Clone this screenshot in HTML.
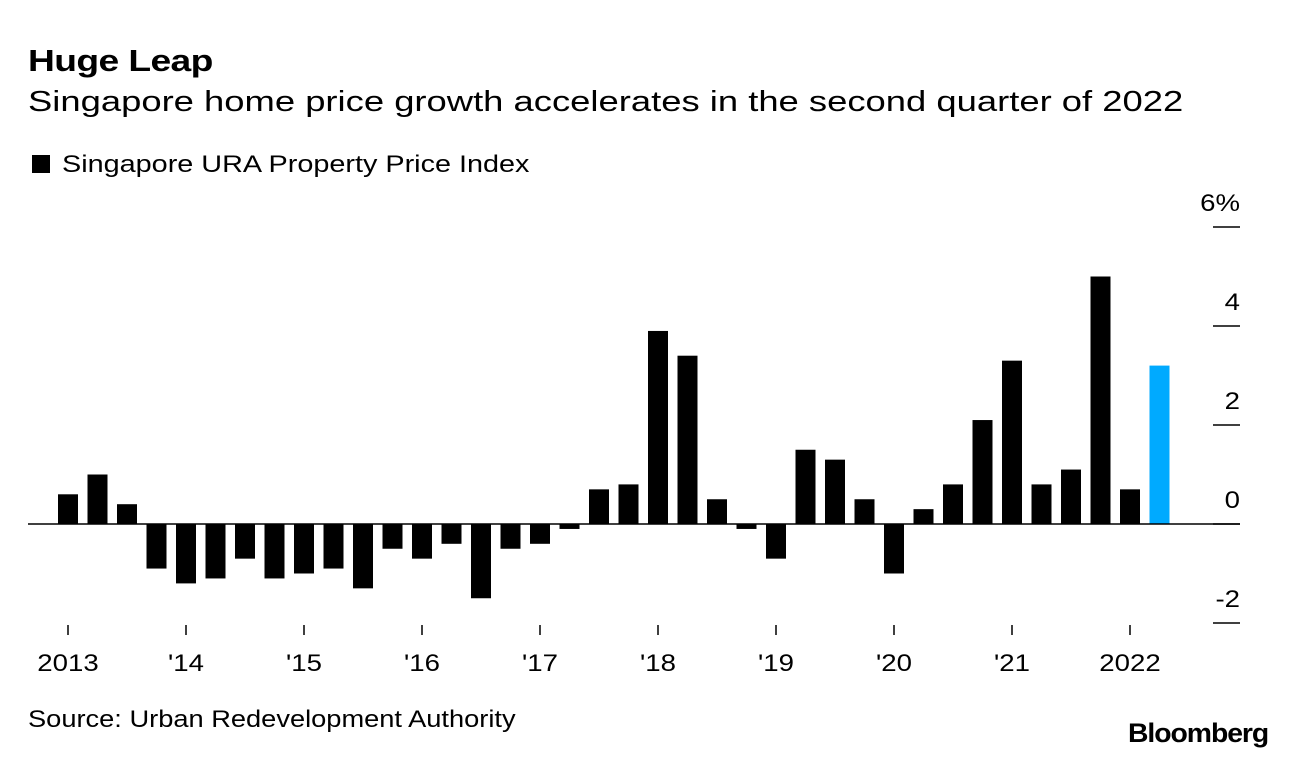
<!DOCTYPE html>
<html><head><meta charset="utf-8"><style>
body{margin:0;background:#fff;font-family:"Liberation Sans",sans-serif;}
#wrap{position:relative;width:1296px;height:760px;overflow:hidden;}
.t{position:absolute;white-space:nowrap;color:#000;transform-origin:0 50%;}
svg text{transform-box:fill-box;}
</style></head><body>
<div id="wrap">
<div class="t" style="left:28px;top:43px;font-size:31px;font-weight:bold;letter-spacing:-0.5px;transform:scaleX(1.2)">Huge Leap</div>
<div class="t" style="left:28px;top:86px;font-size:29px;transform:scaleX(1.255)">Singapore home price growth accelerates in the second quarter of 2022</div>
<div class="t" style="left:32px;top:151px;font-size:24px"><span style="display:inline-block;width:18px;height:18px;background:#000;margin-right:12px;vertical-align:-1px"></span><span style="display:inline-block;transform:scaleX(1.2);transform-origin:0 50%">Singapore URA Property Price Index</span></div>
<svg id="chart" width="1296" height="760" style="position:absolute;left:0;top:0"></svg>
<div class="t" style="left:28px;top:706px;font-size:24px;transform:scaleX(1.135)">Source: Urban Redevelopment Authority</div>
<div class="t" style="left:1128px;top:718px;font-size:27px;font-weight:bold;letter-spacing:-1px;transform:scaleX(1.05)">Bloomberg</div>
</div>
<script>
const values=[0.6,1.0,0.4,-0.9,-1.2,-1.1,-0.7,-1.1,-1.0,-0.9,-1.3,-0.5,-0.7,-0.4,-1.5,-0.5,-0.4,-0.1,0.7,0.8,3.9,3.4,0.5,-0.1,-0.7,1.5,1.3,0.5,-1.0,0.3,0.8,2.1,3.3,0.8,1.1,5.0,0.7,3.2];
const yTicks=[-2,0,2,4,6];
const yLabels=["-2","0","2","4","6%"];
const xLabels=["2013","'14","'15","'16","'17","'18","'19","'20","'21","2022"];
const svg=document.getElementById('chart');
const NS='http://www.w3.org/2000/svg';
const y=v=>524-v*49.5;
const x=i=>68+i*29.5;
function mk(t,a){const e=document.createElementNS(NS,t);for(const k in a)e.setAttribute(k,a[k]);svg.appendChild(e);return e;}
yTicks.forEach((v,i)=>{
 const l=mk('line',{x1:1213,x2:1240,y1:y(v),y2:y(v),stroke:'#000','stroke-width':1.5});
 
 
 const t=mk('text',{x:1240,y:y(v)-16,'text-anchor':'end','font-size':24,'font-family':'Liberation Sans, sans-serif',style:'transform-origin:right center;transform:scaleX(1.15)'});
 t.textContent=yLabels[i];
 
 
});
values.forEach((v,i)=>{
 const top=Math.min(y(v),y(0)),h=Math.abs(y(v)-y(0));
 const r=mk('rect',{x:x(i)-10,y:top,width:20,height:h,fill:i===values.length-1?'#00aaff':'#000'});
 
 
});
const z=mk('line',{x1:28,x2:1240,y1:y(0),y2:y(0),stroke:'#000','stroke-width':1.5});


xLabels.forEach((s,i)=>{
 const xx=x(i*4);
 const l=mk('line',{x1:xx,x2:xx,y1:625,y2:635,stroke:'#000','stroke-width':1.5});
 
 
 const t=mk('text',{x:xx,y:671,'text-anchor':'middle','font-size':24,'font-family':'Liberation Sans, sans-serif',style:'transform-origin:center;transform:scaleX(1.15)'});
 t.textContent=s;
 
 
});
</script>
</body></html>
